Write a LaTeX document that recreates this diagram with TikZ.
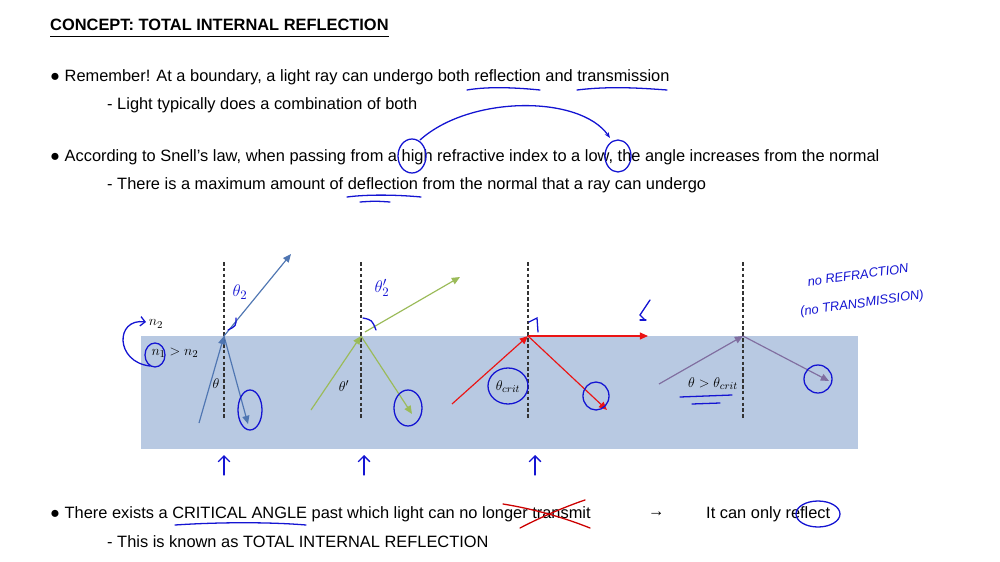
\documentclass[tikz,border=0pt]{standalone}
\usepackage{fontspec}
\setmainfont{Liberation Sans}
\usetikzlibrary{arrows.meta}
\definecolor{water}{RGB}{184,201,226}
\definecolor{rayA}{RGB}{79,118,178}
\definecolor{rayB}{RGB}{155,187,89}
\definecolor{rayC}{RGB}{235,20,20}
\definecolor{rayD}{RGB}{128,110,160}
\definecolor{ink}{RGB}{20,20,210}
\tikzset{
  txt/.style={anchor=west,inner sep=0pt,font=\fontsize{14}{16}\selectfont},
  normal/.style={densely dashed,line width=1pt,black!80},
  ray/.style={line width=1pt,-{Triangle[length=7pt,width=6pt]}},
  pen/.style={ink,line width=1.1pt,line cap=round},
  hand/.style={ink,font=\itshape\fontsize{11}{12}\selectfont,inner sep=0pt},
  lab/.style={inner sep=0pt,font=\fontsize{13}{14}\selectfont}
}
\begin{document}
\begin{tikzpicture}[x=0.03cm,y=-0.03cm]
\useasboundingbox (0,0) rectangle (1000,562);
\node[txt,font=\bfseries\fontsize{14}{16}\selectfont] (title) at (50,25) {CONCEPT: TOTAL INTERNAL REFLECTION};
\draw[line width=0.8pt] (50,36) -- (389,36);
\node[txt] (b1) at (50,77) {● Remember! At a boundary, a light ray can undergo both reflection and transmission};
\node[txt] (s1) at (107,105) {- Light typically does a combination of both};
\node[txt] (b2) at (50,157) {● According to Snell’s law, when passing from a high refractive index to a low, the angle increases from the normal};
\node[txt] (s2) at (107,185) {- There is a maximum amount of deflection from the normal that a ray can undergo};
\node[txt] (b3) at (50,514) {● There exists a CRITICAL ANGLE past which light can no longer transmit};
\node[txt] (arr) at (648,514) {→};
\node[txt] (b3b) at (706,514) {It can only reflect};
\node[txt] (s3) at (107,542) {- This is known as TOTAL INTERNAL REFLECTION};
% medium
\fill[water] (141,336) rectangle (858,449);
\foreach \x/\n in {224/a,361/b,528/c,743/d}{
  \coordinate (t\n) at (\x,262); \coordinate (p\n) at (\x,336); \coordinate (e\n) at (\x,418);
  \draw[normal] (t\n) -- (e\n);}
% rays
\coordinate (a0) at (199,423); \coordinate (a1) at (291,254); \coordinate (a2) at (248,424);
\draw[ray,rayA] (a0) -- (pa); \draw[ray,rayA] (pa) -- (a1); \draw[ray,rayA] (pa) -- (a2);
\coordinate (b0) at (311,410); \coordinate (b1e) at (460,277); \coordinate (b2e) at (412,414); \coordinate (bs) at (365,332);
\draw[ray,rayB] (b0) -- (pb); \draw[ray,rayB] (bs) -- (b1e); \draw[ray,rayB] (pb) -- (b2e);
\coordinate (c0) at (452,404); \coordinate (c1) at (648,336); \coordinate (c2) at (607,410);
\draw[ray,rayC] (c0) -- (pc); \draw[ray,rayC] (pc) -- (c1); \draw[ray,rayC] (pc) -- (c2);
\coordinate (d0) at (659,384); \coordinate (d2) at (829,381);
\draw[ray,rayD] (d0) -- (pd); \draw[ray,rayD] (pd) -- (d2);
% labels
\node[lab] (n2) at (156,324) {$n_2$};
\node[lab] (n1) at (175,353) {$n_1 > n_2$};
\node[lab] (th) at (216,384) {$\theta$};
\node[lab] (th2) at (344,386) {$\theta'$};
\node[lab] (thc) at (508,387) {$\theta_{crit}$};
\node[lab] (thg) at (713,384) {$\theta > \theta_{crit}$};
% handwriting
\draw[pen] (467,90) .. controls (490,86) and (520,88) .. (540,90);
\draw[pen] (577,90) .. controls (610,86) and (640,88) .. (667,90);
\draw[pen] (347,197) .. controls (370,194) and (400,195) .. (421,197);
\draw[pen] (360,202) .. controls (375,201) .. (390,202);
\draw[pen] (175,525) .. controls (220,522) and (270,522) .. (306,525);
\draw[pen] (412,156) ellipse (14 and 17);
\draw[pen] (618,156) ellipse (13 and 16);
\draw[pen,-{Stealth[length=5pt]}] (420,140) .. controls (470,95) and (580,95) .. (610,138);
\draw[pen,red!80!black] (503,504) .. controls (540,510) and (570,520) .. (590,528);
\draw[pen,red!80!black] (520,528) .. controls (545,515) and (570,505) .. (585,500);
\draw[pen] (818,514) ellipse (22 and 13);
\draw[pen] (155,355) ellipse (10 and 12);
\draw[pen,-{Straight Barb[length=4pt]}] (150,366) .. controls (115,362) and (115,318) .. (146,322);
\draw[pen] (250,410) ellipse (12 and 20);
\draw[pen] (408,408) ellipse (14 and 18);
\draw[pen] (508,386) ellipse (20 and 18);
\draw[pen] (596,396) ellipse (13 and 14);
\draw[pen] (818,379) ellipse (14 and 14);
\draw[pen] (680,397) -- (732,395); \draw[pen] (692,404) -- (720,403);
\draw[pen] (228,330) .. controls (236,326) .. (236,318);
\draw[pen] (363,318) .. controls (372,320) .. (376,330);
\draw[pen] (529,322) -- (537,318) -- (538,332);
\draw[pen] (645,320) -- (640,315) -- (650,300);
\draw[pen] (640,320) -- (646,320);
\node[hand,font=\itshape\fontsize{15}{16}\selectfont] (h1) at (240,292) {$\theta_2$};
\node[hand,font=\itshape\fontsize{15}{16}\selectfont] (h2) at (382,288) {$\theta_2'$};
\node[hand,rotate=8] (h3) at (858,275) {no REFRACTION};
\node[hand,rotate=8] (h4) at (862,304) {(no TRANSMISSION)};
\foreach \x in {224,364,535}{
  \coordinate (u\x) at (\x,475); \coordinate (v\x) at (\x,455);
  \draw[pen,-{Straight Barb[length=5pt]}] (u\x) -- (v\x);}
\end{tikzpicture}
\end{document}
